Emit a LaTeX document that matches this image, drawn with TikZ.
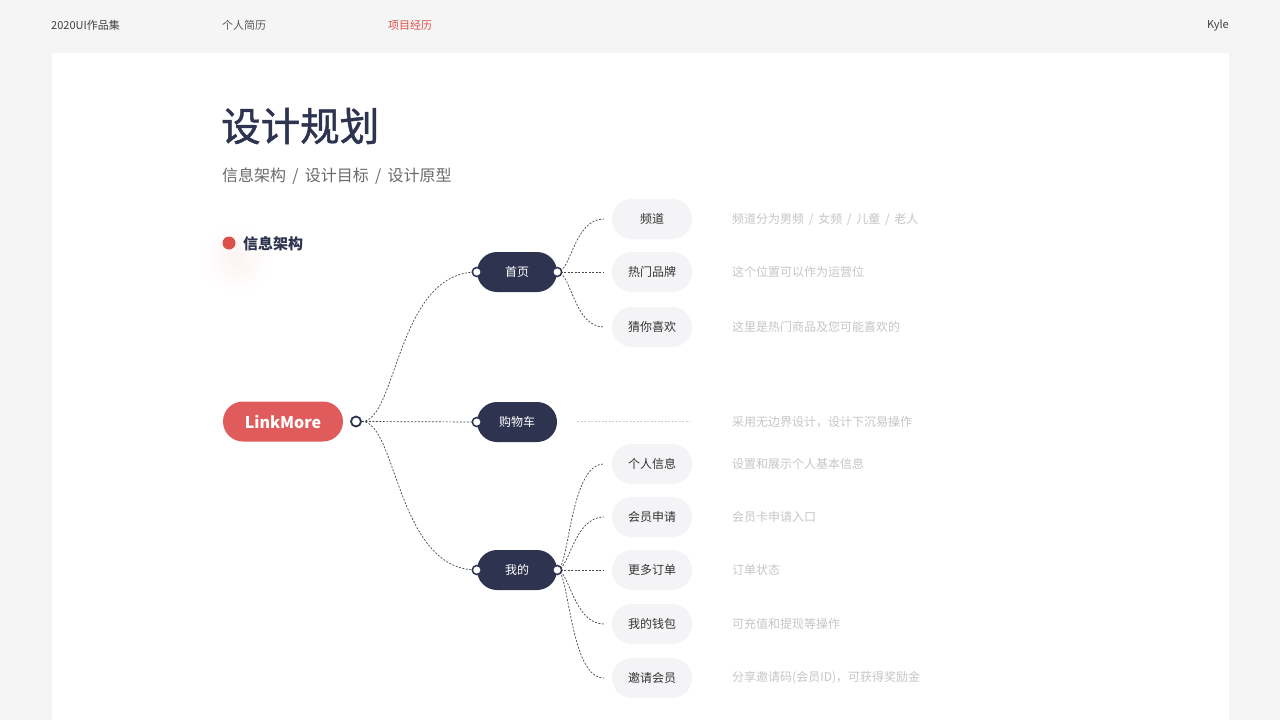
\documentclass[tikz,border=0pt]{standalone}
\usepackage{fontspec}
\setmainfont{Noto Sans CJK SC}
\newfontfamily\midfont[FakeBold=1.2]{Noto Sans CJK SC}
\usetikzlibrary{calc}
\definecolor{pagebg}{HTML}{F5F5F5}
\definecolor{navy}{HTML}{2E3450}
\definecolor{linkred}{HTML}{E05B5B}
\definecolor{dotred}{HTML}{D9514A}
\definecolor{pillgray}{HTML}{F4F4F6}
\definecolor{descgray}{HTML}{C6C6C6}
\definecolor{subgray}{HTML}{6A6A6A}
\newcommand{\fsz}[1]{\fontsize{#1}{#1}\selectfont}
\newcommand{\sep}{\hspace{0.39em}/\hspace{0.39em}}
\tikzset{
	rootpill/.style={fill=linkred, text=white, rounded corners=20pt, minimum width=120pt, minimum height=40pt, font=\fsz{16}\bfseries},
	darkpill/.style={fill=navy, text=white, rounded corners=20pt, minimum width=80pt, minimum height=40pt, font=\fsz{12}},
	leafpill/.style={fill=pillgray, text=black!80, rounded corners=20pt, minimum width=80pt, minimum height=40pt, font=\fsz{12}},
	port/.style={circle, draw=navy, fill=white, line width=1.5pt, minimum size=9pt, inner sep=0pt},
	link/.style={draw=black!72, dash pattern=on 2pt off 1.5pt, line width=0.7pt},
	desc/.style={anchor=west, text=descgray, font=\fsz{12}, inner sep=0pt},
	topitem/.style={anchor=west, font=\fsz{11}, inner sep=0pt}
}

\begin{document}
\begin{tikzpicture}[x=1pt, y=-1pt]
	%%%%% START %%%%%
	
	\fill[pagebg] (0,0) rectangle (1280,720);
	\fill[white] (52,53) rectangle (1229,720);
	
	\node[topitem, text=black!75] (brand) at (51,25) {2020UI作品集};
	\node[topitem, text=black!65] (resume) at (222,25) {个人简历};
	\node[topitem, text=dotred] (project) at (388,25) {项目经历};
	\node[topitem, anchor=east, text=black!75] (user) at (1229,25) {Kyle};
	
	\node[anchor=west, inner sep=0pt, text=navy, font=\fsz{39.5}\midfont] (title) at (221,126) {设计规划};
	\node[anchor=west, inner sep=0pt, text=subgray, font=\fsz{16}] (subtitle) at (222,176) {信息架构\sep 设计目标\sep 设计原型};
	
	\shade[inner color=dotred!7, outer color=white] (236,258) circle (36);
	\fill[dotred] (229,243) circle (6.5);
	\node[anchor=west, inner sep=0pt, text=navy, font=\fsz{15}\bfseries] (section) at (243,244) {信息架构};
	
	% root and first level
	\node[rootpill] (root) at (283,421.5) {LinkMore};
	\node[port, line width=1.8pt, minimum size=10pt] (rootport) at (356,421.5) {};
	
	\node[darkpill] (home) at (517,272) {首页};
	\node[darkpill] (cart) at (517,422) {购物车};
	\node[darkpill] (mine) at (517,570) {我的};
	
	\draw[link] (rootport.east) .. controls +(35,0) and +(-80,0) .. (home.west);
	\draw[link] (rootport.east) -- (cart.west);
	\draw[link] (rootport.east) .. controls +(35,0) and +(-80,0) .. (mine.west);
	
	% leaves
	\node[leafpill] (chan) at (652,219) {频道};
	\node[leafpill] (brands) at (652,272) {热门品牌};
	\node[leafpill] (guess) at (652,327) {猜你喜欢};
	
	\node[leafpill] (info) at (652,464) {个人信息};
	\node[leafpill] (member) at (652,517) {会员申请};
	\node[leafpill] (orders) at (652,570) {更多订单};
	\node[leafpill] (wallet) at (652,624) {我的钱包};
	\node[leafpill] (invite) at (652,678) {邀请会员};
	
	\draw[link] (home.east) .. controls +(14,0) and +(-30,0) .. ([xshift=-8pt]chan.west);
	\draw[link] (home.east) -- ([xshift=-8pt]brands.west);
	\draw[link] (home.east) .. controls +(14,0) and +(-30,0) .. ([xshift=-8pt]guess.west);
	
	\draw[link] (mine.east) .. controls +(12,0) and +(-34,0) .. ([xshift=-8pt]info.west);
	\draw[link] (mine.east) .. controls +(12,0) and +(-30,0) .. ([xshift=-8pt]member.west);
	\draw[link] (mine.east) -- ([xshift=-8pt]orders.west);
	\draw[link] (mine.east) .. controls +(12,0) and +(-30,0) .. ([xshift=-8pt]wallet.west);
	\draw[link] (mine.east) .. controls +(12,0) and +(-34,0) .. ([xshift=-8pt]invite.west);
	
	\coordinate (cartfrom) at (577,421);
	\coordinate (cartto) at (690,421);
	\draw[link, draw=black!20] (cartfrom) -- (cartto);
	
	% ports on the dark pills
	\node[port] (homein) at (home.west) {};
	\node[port] (homeout) at (home.east) {};
	\node[port] (cartin) at (cart.west) {};
	\node[port] (minein) at (mine.west) {};
	\node[port] (mineout) at (mine.east) {};
	
	% descriptions
	\node[desc] (chandesc) at (732,219) {频道分为男频\sep 女频\sep 儿童\sep 老人};
	\node[desc] (brandsdesc) at (732,272) {这个位置可以作为运营位};
	\node[desc] (guessdesc) at (732,327) {这里是热门商品及您可能喜欢的};
	\node[desc] (cartdesc) at (732,422) {采用无边界设计，设计下沉易操作};
	\node[desc] (infodesc) at (732,464) {设置和展示个人基本信息};
	\node[desc] (memberdesc) at (732,517) {会员卡申请入口};
	\node[desc] (ordersdesc) at (732,570) {订单状态};
	\node[desc] (walletdesc) at (732,624) {可充值和提现等操作};
	\node[desc] (invitedesc) at (732,678) {分享邀请码(会员ID)，可获得奖励金};
	
	%%%%% END %%%%%
\end{tikzpicture}
\end{document}
